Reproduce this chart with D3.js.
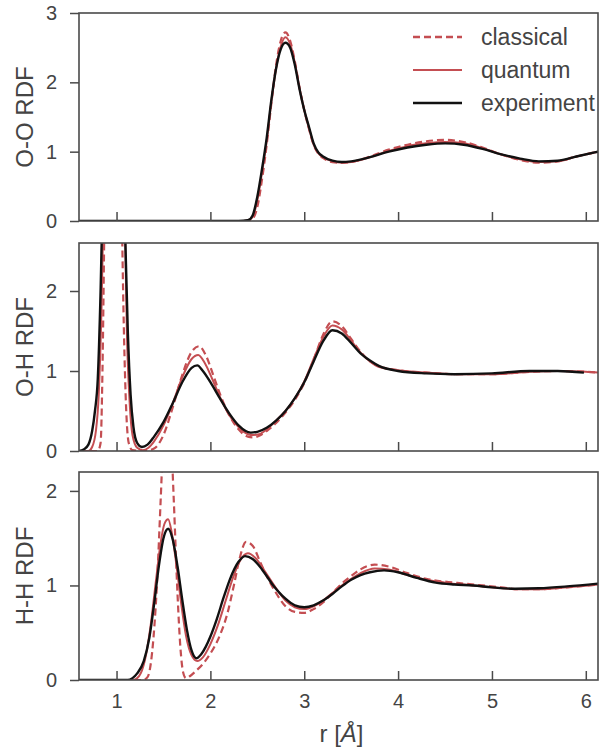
<!DOCTYPE html>
<html>
<head>
<meta charset="utf-8">
<script src="https://cdn.jsdelivr.net/npm/d3@7"></script>
<style>
  body { margin: 0; background: #fff; }
  svg { display: block; }
  text { font-family: "Liberation Sans", Arial, sans-serif; fill: #444; }
</style>
</head>
<body>
<svg id="chart" width="599" height="752"></svg>
<script>
// r range shared by all panels
var rDomain = [0.6, 6.13];
var xTicks = [1, 2, 3, 4, 5, 6];

var panelNames = ["O-O RDF", "O-H RDF", "H-H RDF"];
var yMax = [3, 2.6, 2.2];
var yTicks = [[0, 1, 2, 3], [0, 1, 2], [0, 1, 2]];

var legendLabels = ["classical", "quantum", "experiment"];

// O-O
var ooClassical = [[0.6,0],[2.4,0],[2.45,0.03],[2.5,0.2],[2.55,0.6],[2.6,1.1],[2.65,1.7],[2.7,2.25],[2.75,2.6],[2.8,2.72],[2.85,2.6],[2.9,2.3],[2.95,1.92],[3.0,1.6],[3.05,1.33],[3.1,1.1],[3.15,0.97],[3.2,0.91],[3.3,0.85],[3.4,0.84],[3.5,0.85],[3.7,0.93],[3.9,1.03],[4.1,1.1],[4.3,1.15],[4.5,1.17],[4.7,1.14],[4.9,1.06],[5.1,0.96],[5.3,0.88],[5.5,0.84],[5.7,0.86],[5.9,0.93],[6.13,1.0]];
var ooQuantum = [[0.6,0],[2.35,0],[2.4,0.01],[2.45,0.06],[2.5,0.3],[2.55,0.7],[2.6,1.15],[2.65,1.72],[2.7,2.2],[2.75,2.52],[2.8,2.65],[2.85,2.55],[2.9,2.28],[2.95,1.92],[3.0,1.6],[3.05,1.34],[3.1,1.1],[3.15,0.98],[3.2,0.92],[3.3,0.86],[3.4,0.84],[3.5,0.85],[3.7,0.92],[3.9,1.01],[4.1,1.08],[4.3,1.12],[4.5,1.14],[4.7,1.12],[4.9,1.05],[5.1,0.96],[5.3,0.89],[5.5,0.85],[5.7,0.86],[5.9,0.93],[6.13,1.0]];
var ooExperiment = [[0.6,0],[2.3,0],[2.4,0.01],[2.45,0.08],[2.5,0.35],[2.55,0.75],[2.6,1.2],[2.65,1.75],[2.7,2.2],[2.75,2.48],[2.8,2.57],[2.85,2.5],[2.9,2.25],[2.95,1.9],[3.0,1.6],[3.05,1.36],[3.1,1.12],[3.15,0.99],[3.2,0.93],[3.3,0.87],[3.4,0.85],[3.5,0.86],[3.7,0.92],[3.9,1.0],[4.1,1.06],[4.3,1.1],[4.5,1.12],[4.7,1.1],[4.9,1.04],[5.1,0.96],[5.3,0.9],[5.5,0.86],[5.7,0.87],[5.9,0.93],[6.13,1.0]];

// O-H
var ohClassical = [[0.6,0],[0.8,0],[0.83,0.1],[0.85,1.0],[0.87,2.8],[0.91,7],[0.96,10],[1.01,7],[1.05,3.5],[1.07,2.0],[1.1,0.6],[1.13,0.1],[1.17,0.01],[1.3,0],[1.4,0.03],[1.5,0.2],[1.6,0.55],[1.7,0.95],[1.8,1.24],[1.88,1.31],[1.95,1.2],[2.03,0.95],[2.1,0.72],[2.2,0.45],[2.3,0.27],[2.4,0.18],[2.46,0.17],[2.52,0.19],[2.6,0.25],[2.7,0.35],[2.8,0.48],[2.9,0.64],[3.0,0.85],[3.1,1.14],[3.2,1.45],[3.3,1.62],[3.4,1.56],[3.5,1.4],[3.6,1.24],[3.7,1.12],[3.8,1.06],[4.0,1.01],[4.3,0.98],[4.6,0.96],[5.0,0.96],[5.4,0.99],[5.7,1.0],[6.0,0.99],[6.13,0.98]];
var ohQuantum = [[0.6,0],[0.7,0],[0.74,0.05],[0.78,0.25],[0.81,0.7],[0.84,1.8],[0.87,3.6],[0.92,6.5],[0.97,8],[1.02,6.5],[1.06,4.5],[1.09,2.8],[1.11,1.5],[1.14,0.6],[1.17,0.2],[1.22,0.04],[1.28,0.01],[1.34,0.04],[1.4,0.12],[1.5,0.32],[1.6,0.6],[1.7,0.92],[1.8,1.15],[1.87,1.2],[1.94,1.1],[2.02,0.9],[2.1,0.68],[2.2,0.45],[2.3,0.3],[2.4,0.21],[2.46,0.2],[2.52,0.21],[2.6,0.27],[2.7,0.38],[2.8,0.5],[2.9,0.66],[3.0,0.87],[3.1,1.15],[3.2,1.42],[3.3,1.57],[3.4,1.52],[3.5,1.38],[3.6,1.23],[3.7,1.12],[3.8,1.05],[4.0,1.01],[4.3,0.98],[4.6,0.96],[5.0,0.96],[5.4,0.99],[5.7,1.0],[6.0,0.99],[6.13,0.98]];
var ohExperiment = [[0.6,0],[0.65,0.02],[0.7,0.08],[0.74,0.25],[0.77,0.5],[0.8,0.9],[0.83,2.0],[0.86,3.6],[0.9,5.5],[0.95,6.8],[1.0,6.0],[1.05,4.2],[1.09,2.8],[1.12,1.5],[1.15,0.7],[1.18,0.3],[1.22,0.1],[1.27,0.05],[1.33,0.08],[1.4,0.18],[1.5,0.36],[1.6,0.6],[1.7,0.86],[1.8,1.04],[1.86,1.07],[1.92,1.0],[2.0,0.86],[2.1,0.66],[2.2,0.47],[2.3,0.32],[2.43,0.23],[2.5,0.24],[2.6,0.29],[2.7,0.38],[2.8,0.5],[2.9,0.66],[3.0,0.86],[3.1,1.12],[3.2,1.37],[3.3,1.51],[3.4,1.47],[3.5,1.35],[3.6,1.22],[3.7,1.13],[3.8,1.06],[4.0,1.0],[4.3,0.97],[4.6,0.96],[5.0,0.97],[5.4,1.0],[5.7,1.0],[5.98,0.98]];

// H-H
var hhClassical = [[0.6,0],[1.28,0],[1.33,0.03],[1.38,0.3],[1.43,1.0],[1.47,1.9],[1.5,2.6],[1.54,3.0],[1.58,2.6],[1.61,1.9],[1.65,0.9],[1.68,0.35],[1.71,0.08],[1.74,0.02],[1.78,0.04],[1.85,0.1],[1.92,0.17],[2.0,0.28],[2.1,0.47],[2.18,0.7],[2.25,1.0],[2.31,1.28],[2.38,1.46],[2.45,1.42],[2.53,1.25],[2.6,1.1],[2.7,0.92],[2.8,0.78],[2.9,0.72],[3.0,0.71],[3.1,0.75],[3.2,0.82],[3.3,0.92],[3.4,1.02],[3.5,1.1],[3.6,1.17],[3.75,1.22],[3.9,1.2],[4.1,1.13],[4.3,1.07],[4.5,1.04],[4.7,1.02],[4.9,1.0],[5.1,0.98],[5.3,0.96],[5.5,0.96],[5.8,0.98],[6.13,1.01]];
var hhQuantum = [[0.6,0],[1.18,0],[1.24,0.04],[1.3,0.2],[1.36,0.55],[1.42,1.05],[1.47,1.45],[1.51,1.65],[1.55,1.7],[1.59,1.55],[1.64,1.2],[1.69,0.8],[1.74,0.47],[1.8,0.26],[1.86,0.2],[1.92,0.24],[2.0,0.38],[2.08,0.58],[2.16,0.83],[2.24,1.08],[2.32,1.27],[2.4,1.34],[2.48,1.29],[2.58,1.15],[2.7,0.97],[2.8,0.84],[2.9,0.77],[3.0,0.75],[3.1,0.78],[3.2,0.84],[3.3,0.92],[3.4,1.0],[3.5,1.07],[3.6,1.13],[3.75,1.18],[3.9,1.17],[4.1,1.11],[4.3,1.06],[4.5,1.03],[4.8,1.0],[5.0,0.98],[5.3,0.96],[5.5,0.96],[5.8,0.98],[6.13,1.01]];
var hhExperiment = [[0.6,0],[1.12,0],[1.17,0.02],[1.22,0.07],[1.29,0.2],[1.35,0.45],[1.4,0.8],[1.45,1.2],[1.5,1.5],[1.55,1.6],[1.6,1.48],[1.65,1.2],[1.7,0.85],[1.75,0.53],[1.8,0.31],[1.85,0.23],[1.9,0.27],[1.95,0.35],[2.0,0.46],[2.07,0.65],[2.14,0.87],[2.21,1.07],[2.3,1.25],[2.37,1.31],[2.45,1.28],[2.55,1.17],[2.67,1.0],[2.8,0.86],[2.9,0.79],[3.0,0.77],[3.1,0.79],[3.2,0.84],[3.3,0.91],[3.4,0.99],[3.5,1.06],[3.6,1.11],[3.7,1.14],[3.85,1.16],[4.0,1.14],[4.2,1.08],[4.4,1.03],[4.6,1.01],[4.8,1.0],[5.0,0.98],[5.25,0.965],[5.5,0.97],[5.8,0.99],[6.13,1.02]];

var panelSeries = [
  [ooClassical, ooQuantum, ooExperiment],
  [ohClassical, ohQuantum, ohExperiment],
  [hhClassical, hhQuantum, hhExperiment]
];

var red = "#c44e52", spine = "#4a4a4a";
var styles = [
  {stroke: red, width: 2.2, dash: "7,4"},
  {stroke: red, width: 2, dash: null},
  {stroke: "#111", width: 2.4, dash: null}
];

var svg = d3.select("#chart");
var left = 79, right = 598, panelTop = [13, 243, 472], panelH = 208;

var x = d3.scaleLinear().domain(rDomain).range([left, right]);

panelSeries.forEach(function (series, i) {
  var top = panelTop[i];
  var y = d3.scaleLinear().domain([0, yMax[i]]).range([top + panelH, top]);
  var g = svg.append("g");

  g.append("clipPath").attr("id", "clip" + i).append("rect")
    .attr("x", left).attr("y", top).attr("width", right - left).attr("height", panelH);

  var line = d3.line().x(function (d) { return x(d[0]); }).y(function (d) { return y(d[1]); }).curve(d3.curveMonotoneX);
  var lines = g.append("g").attr("clip-path", "url(#clip" + i + ")");
  series.forEach(function (s, k) {
    lines.append("path").datum(s).attr("d", line).attr("fill", "none")
      .attr("stroke", styles[k].stroke).attr("stroke-width", styles[k].width)
      .attr("stroke-dasharray", styles[k].dash).attr("stroke-linejoin", "round");
  });

  // y axis, ticks outward
  var ya = g.append("g").attr("transform", "translate(" + left + ",0)")
    .call(d3.axisLeft(y).tickValues(yTicks[i]).tickFormat(d3.format("d")).tickSize(9).tickPadding(13));
  // x axis, ticks inward
  var xa = g.append("g").attr("transform", "translate(0," + (top + panelH) + ")")
    .call(d3.axisBottom(x).tickValues(xTicks).tickFormat(d3.format("d")).tickSizeInner(-9).tickSizeOuter(0).tickPadding(14));
  if (i < 2) xa.selectAll(".tick text").remove();
  [ya, xa].forEach(function (a) {
    a.select(".domain").remove();
    a.selectAll(".tick line").attr("stroke", spine).attr("stroke-width", 1.5);
    a.selectAll(".tick text").attr("fill", "#444").style("font-size", "20px").style("font-family", "'Liberation Sans', Arial, sans-serif");
  });

  g.append("rect").attr("x", left).attr("y", top).attr("width", right - left).attr("height", panelH)
    .attr("fill", "none").attr("stroke", spine).attr("stroke-width", 1.6);

  g.append("text").attr("transform", "translate(33," + (top + panelH / 2) + ") rotate(-90)")
    .attr("text-anchor", "middle").style("font-size", "24px").text(panelNames[i]);
});

// x label
var xl = svg.append("text").attr("x", (left + right) / 2 + 3).attr("y", 742)
  .attr("text-anchor", "middle").style("font-size", "24px");
xl.append("tspan").text("r [");
xl.append("tspan").style("font-style", "italic").text("Å");
xl.append("tspan").text("]");

// legend
var legend = svg.append("g").attr("transform", "translate(413,37)");
legendLabels.forEach(function (lab, k) {
  var row = legend.append("g").attr("transform", "translate(0," + (k * 33) + ")");
  row.append("line").attr("x1", 0).attr("x2", 49).attr("y1", 0).attr("y2", 0)
    .attr("stroke", styles[k].stroke).attr("stroke-width", styles[k].width + 0.2)
    .attr("stroke-dasharray", styles[k].dash);
  row.append("text").attr("x", 68).attr("y", 0).attr("dy", "0.35em")
    .style("font-size", "23px").text(lab);
});
</script>
</body>
</html>
